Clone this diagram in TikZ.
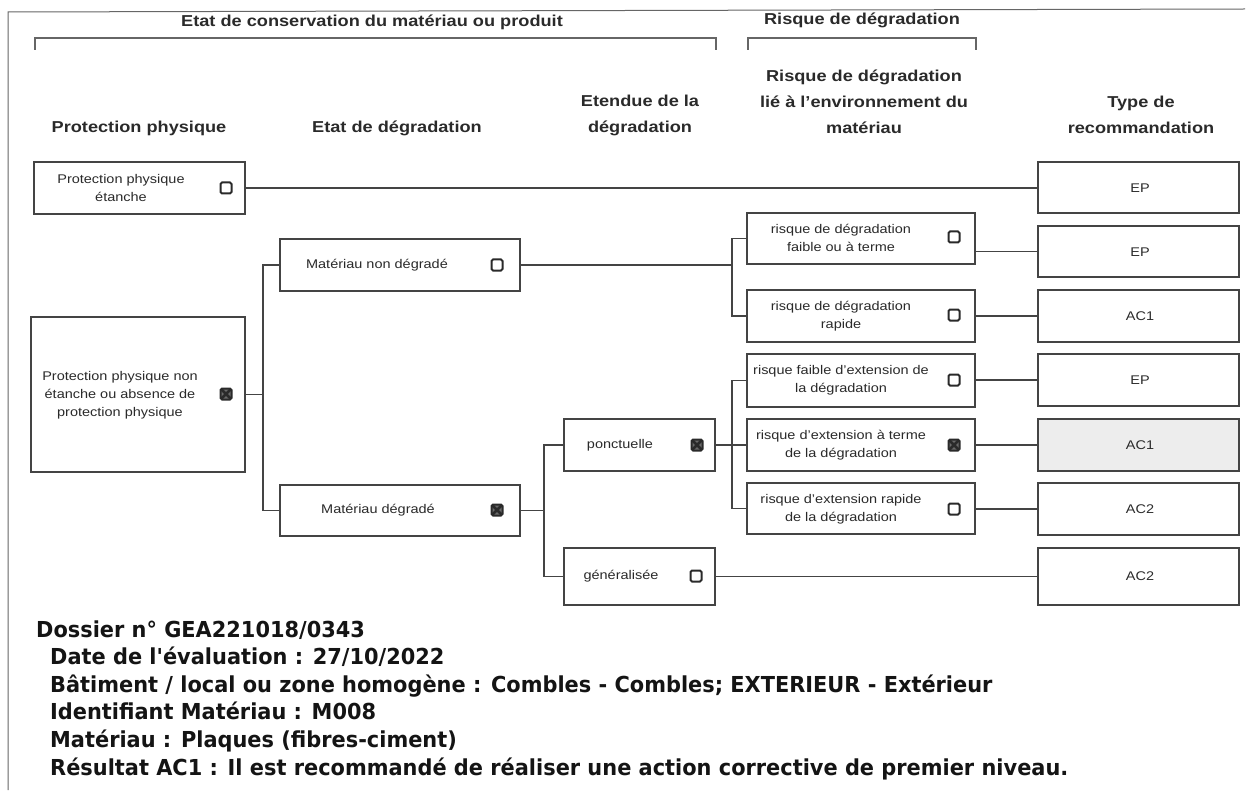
\documentclass[tikz,border=0pt]{standalone}
\usepackage{fontspec}
\setmainfont{Liberation Sans}[FakeStretch=1.15]
\newfontfamily\bottomfont{DejaVu Sans}[FakeStretch=0.95]
\definecolor{ink}{HTML}{2A2A2A}
\definecolor{boxc}{HTML}{444444}
\definecolor{framec}{HTML}{666666}
\tikzset{
  box/.style={rectangle, draw=boxc, line width=1.6pt, inner sep=0pt},
  conn/.style={draw=boxc, line width=1.6pt},
  brk/.style={draw=framec, line width=1.3pt},
  framel/.style={draw=framec, line width=1pt},
  hdr/.style={text=ink, font=\bfseries\fontsize{15.8}{26}\selectfont, align=center, inner sep=0pt},
  lbl/.style={text=ink, font=\fontsize{12.6}{18}\selectfont, align=center, inner sep=0pt},
  chk/.style={rectangle, draw=ink, line width=2pt, rounded corners=1.5pt, minimum size=11pt, inner sep=0pt},
  chkx/.style={chk, fill=ink!70, path picture={\draw[ink, line width=2.6pt]
     (path picture bounding box.north west) -- (path picture bounding box.south east)
     (path picture bounding box.north east) -- (path picture bounding box.south west);}},
  bot/.style={text=black!92, font=\bottomfont\bfseries\fontsize{22}{24}\selectfont, anchor=base west, inner sep=0pt}
}
\begin{document}
\begin{tikzpicture}[x=1pt,y=-1pt]
\useasboundingbox (0,0) rectangle (1252,802);
% frame
\draw[framel] (8,790) -- (8,12) -- (1245,9);
% brackets
\coordinate (b1a) at (35,50); \coordinate (b1b) at (716,50);
\coordinate (b2a) at (748,50); \coordinate (b2b) at (976,50);
\draw[brk] (b1a) -- (35,38) -- (716,38) -- (b1b);
\draw[brk] (b2a) -- (748,38) -- (976,38) -- (b2b);
\node[hdr] (t1) at (372,22) {Etat de conservation du matériau ou produit};
\node[hdr] (t2) at (862,20) {Risque de dégradation};
% column headers
\node[hdr] (h1) at (139,128) {Protection physique};
\node[hdr] (h2) at (397,128) {Etat de dégradation};
\node[hdr] (h3) at (640,115) {Etendue de la\\dégradation};
\node[hdr] (h4) at (864,102) {Risque de dégradation\\lié à l'environnement du\\matériau};
\node[hdr] (h5) at (1141,115) {Type de\\recommandation};
% boxes column 1
\node[box, minimum width=211pt, minimum height=52pt] (ppe) at (139.5,188) {};
\node[box, minimum width=214pt, minimum height=155pt] (ppne) at (138,394.5) {};
% column 2
\node[box, minimum width=240pt, minimum height=52pt] (mnd) at (400,265) {};
\node[box, minimum width=240pt, minimum height=51pt] (md) at (400,510.5) {};
% column 3
\node[box, minimum width=151pt, minimum height=52pt] (ponc) at (639.5,445) {};
\node[box, minimum width=151pt, minimum height=57pt] (gen) at (639.5,576.5) {};
% column 4
\node[box, minimum width=228pt, minimum height=51pt] (rdf) at (861,238.5) {};
\node[box, minimum width=228pt, minimum height=52pt] (rdr) at (861,316) {};
\node[box, minimum width=228pt, minimum height=53pt] (rfe) at (861,380.5) {};
\node[box, minimum width=228pt, minimum height=52pt] (ret) at (861,445) {};
\node[box, minimum width=228pt, minimum height=51pt] (rer) at (861,508.5) {};
% column 5
\node[box, minimum width=201pt, minimum height=51pt] (ep1) at (1138.5,187.5) {};
\node[box, minimum width=201pt, minimum height=51pt] (ep2) at (1138.5,251.5) {};
\node[box, minimum width=201pt, minimum height=52pt] (ac1a) at (1138.5,316) {};
\node[box, minimum width=201pt, minimum height=52pt] (ep3) at (1138.5,380) {};
\node[box, minimum width=201pt, minimum height=52pt, fill=black!7] (ac1b) at (1138.5,445) {};
\node[box, minimum width=201pt, minimum height=52pt] (ac2a) at (1138.5,509) {};
\node[box, minimum width=201pt, minimum height=57pt] (ac2b) at (1138.5,576.5) {};
% labels
\node[lbl] (lppe) at (121,188) {Protection physique\\étanche};
\node[lbl] (lppne) at (120,395) {Protection physique non\\étanche ou absence de\\protection physique};
\node[lbl] (lmnd) at (377,265) {Matériau non dégradé};
\node[lbl] (lmd) at (378,510) {Matériau dégradé};
\node[lbl] (lponc) at (620,445) {ponctuelle};
\node[lbl] (lgen) at (621,576) {généralisée};
\node[lbl] (lrdf) at (841,238) {risque de dégradation\\faible ou à terme};
\node[lbl] (lrdr) at (841,316) {risque de dégradation\\rapide};
\node[lbl] (lrfe) at (841,380) {risque faible d'extension de\\la dégradation};
\node[lbl] (lret) at (841,445) {risque d'extension à terme\\de la dégradation};
\node[lbl] (lrer) at (841,509) {risque d'extension rapide\\de la dégradation};
\node[lbl] (lep1) at (1140,188) {EP};
\node[lbl] (lep2) at (1140,252) {EP};
\node[lbl] (lac1a) at (1140,316) {AC1};
\node[lbl] (lep3) at (1140,380) {EP};
\node[lbl] (lac1b) at (1140,445) {AC1};
\node[lbl] (lac2a) at (1140,509) {AC2};
\node[lbl] (lac2b) at (1140,576) {AC2};
% checkboxes
\node[chk] (cppe) at (226,188) {};
\node[chkx] (cppne) at (226,394) {};
\node[chk] (cmnd) at (497,265) {};
\node[chkx] (cmd) at (497,510) {};
\node[chkx] (cponc) at (697,445) {};
\node[chk] (cgen) at (696,576) {};
\node[chk] (crdf) at (954,237) {};
\node[chk] (crdr) at (954,315) {};
\node[chk] (crfe) at (954,380) {};
\node[chkx] (cret) at (954,445) {};
\node[chk] (crer) at (954,509) {};
% connectors
\draw[conn] (ppe.east) -- (ppe.east -| ep1.west);
\draw[conn] (ppne.east) -- ++(17,0) coordinate (j1);
\draw[conn] (mnd.west) -| (j1) |- (md.west);
\draw[conn] (mnd.east) -- (732,265) coordinate (j2);
\draw[conn] (rdf.west) -| (j2) |- (rdr.west);
\draw[conn] (md.east) -- ++(23,0) coordinate (j3);
\draw[conn] (ponc.west) -| (j3) |- (gen.west);
\draw[conn] (ponc.east) -- (732,445) coordinate (j4);
\draw[conn] (rfe.west) -| (j4) |- (rer.west);
\draw[conn] (j4) -- (ret.west);
\draw[conn] (gen.east) -- (gen.east -| ac2b.west);
\draw[conn] (rdf.east |- ep2.west) -- (ep2.west);
\draw[conn] (rdr.east |- ac1a.west) -- (ac1a.west);
\draw[conn] (rfe.east |- ep3.west) -- (ep3.west);
\draw[conn] (ret.east |- ac1b.west) -- (ac1b.west);
\draw[conn] (rer.east |- ac2a.west) -- (ac2a.west);
% bottom text
\node[bot] (d1) at (36,637) {Dossier n° GEA221018/0343};
\node[bot] (d2) at (50,664) {Date de l'évaluation : 27/10/2022};
\node[bot] (d3) at (50,692) {Bâtiment / local ou zone homogène : Combles - Combles; EXTERIEUR - Extérieur};
\node[bot] (d4) at (50,719) {Identifiant Matériau : M008};
\node[bot] (d5) at (50,747) {Matériau : Plaques (fibres-ciment)};
\node[bot] (d6) at (50,775) {Résultat AC1 : Il est recommandé de réaliser une action corrective de premier niveau.};
\end{tikzpicture}
\end{document}
